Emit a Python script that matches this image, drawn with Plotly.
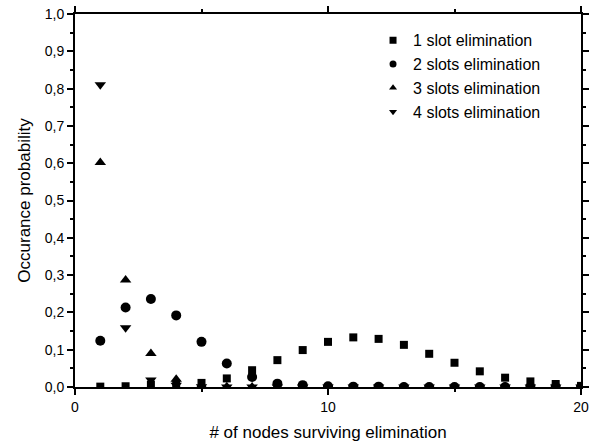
import plotly.graph_objects as go

x_nodes = list(range(1, 21))
one_slot = [0.001, 0.002, 0.006, 0.008, 0.011, 0.023, 0.045, 0.072, 0.099, 0.121,
            0.133, 0.129, 0.113, 0.089, 0.065, 0.042, 0.025, 0.015, 0.008, 0.003]
two_slots = [0.124, 0.213, 0.236, 0.192, 0.121, 0.063, 0.027, 0.009, 0.005, 0.002,
             0.001, 0.001, 0.0, 0.0, 0.0, 0.0, 0.0, 0.0, 0.0, 0.0]
three_slots = [0.602, 0.287, 0.090, 0.021, 0.004, 0.001, 0.0, 0.0, 0.0, 0.0,
               0.0, 0.0, 0.0, 0.0, 0.0, 0.0, 0.0, 0.0, 0.0, 0.0]
four_slots = [0.81, 0.159, 0.019, 0.005, 0.001, 0.0, 0.0, 0.0, 0.0, 0.0,
              0.0, 0.0, 0.0, 0.0, 0.0, 0.0, 0.0, 0.0, 0.0, 0.0]

names = ["1 slot elimination", "2 slots elimination", "3 slots elimination", "4 slots elimination"]
symbols = ["square", "circle", "triangle-up", "triangle-down"]
sizes = [8, 10, 10, 10]
series = [one_slot, two_slots, three_slots, four_slots]

y_ticks = [i / 10 for i in range(11)]
y_ticktext = [f"{v:.1f}".replace(".", ",") for v in y_ticks]
x_ticks = [0, 10, 20]

FONT = "Liberation Sans, Arial"

fig = go.Figure()
for name, sym, sz, ys in zip(names, symbols, sizes, series):
    fig.add_trace(go.Scatter(x=x_nodes, y=ys, mode="markers", name=name, showlegend=False,
                             marker=dict(symbol=sym, size=sz, color="black")))
# legend entries with smaller markers, as in the reference legend
for name, sym in zip(names, symbols):
    fig.add_trace(go.Scatter(x=[None], y=[None], mode="markers", name=name,
                             marker=dict(symbol=sym, size=7, color="black")))

axis_common = dict(showline=True, linecolor="black", linewidth=2, mirror="ticks",
                   ticks="outside", tickcolor="black", tickwidth=1.5, ticklen=6,
                   showgrid=False, zeroline=False, automargin=False,
                   tickfont=dict(family=FONT, size=14, color="black"))

fig.update_layout(
    width=596, height=446,
    margin=dict(l=75, r=15, t=14, b=59),
    paper_bgcolor="white", plot_bgcolor="white",
    font=dict(family=FONT, color="black"),
    xaxis=dict(range=[0, 20], tickvals=x_ticks, ticktext=[str(v) for v in x_ticks],
               title=dict(text="# of nodes surviving elimination", font=dict(size=17), standoff=12),
               minor=dict(ticks="outside", dtick=5, ticklen=3, tickcolor="black", tickwidth=1.5),
               **axis_common),
    yaxis=dict(range=[0, 1.0], tickvals=y_ticks, ticktext=y_ticktext,
               title=dict(text="Occurance probability", font=dict(size=17), standoff=10),
               minor=dict(ticks="outside", dtick=0.05, ticklen=3, tickcolor="black", tickwidth=1.5),
               **axis_common),
    legend=dict(x=0.589, y=0.975, xanchor="left", yanchor="top", bgcolor="rgba(0,0,0,0)",
                font=dict(family=FONT, size=16, color="black"),
                tracegroupgap=0, itemsizing="trace"),
)

# remove the default 8px page margin so the figure sits at the window's corner
fig.write_html("out.html", config={"displayModeBar": False},
               post_script="document.body.style.margin='0';")
